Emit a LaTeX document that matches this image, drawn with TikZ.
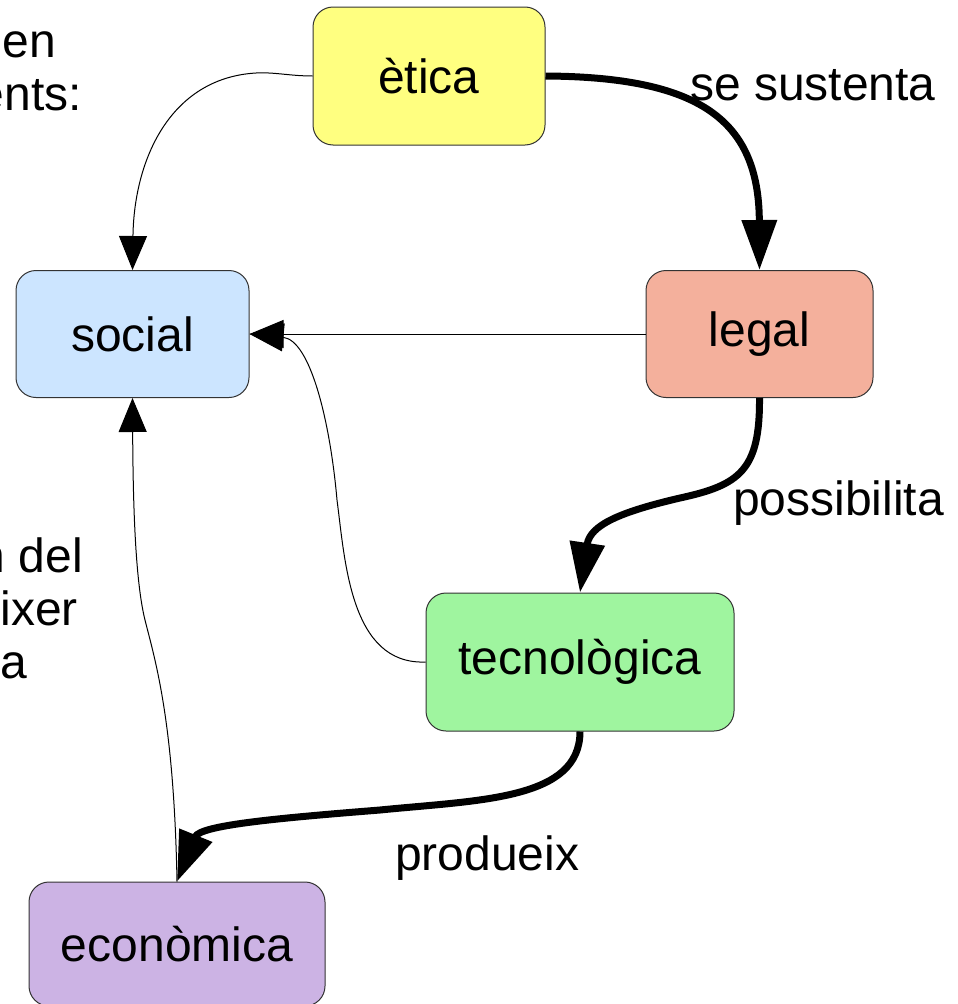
\documentclass[tikz,border=0pt]{standalone}
\usepackage{fontspec}
\setmainfont{Liberation Sans}
\usetikzlibrary{arrows.meta}
\definecolor{cEtica}{HTML}{FFFF80}
\definecolor{cSocial}{HTML}{CCE5FF}
\definecolor{cLegal}{HTML}{F4B09C}
\definecolor{cTecno}{HTML}{9FF59F}
\definecolor{cEcon}{HTML}{CCB3E4}
\begin{document}
\begin{tikzpicture}[x=1pt,y=-1pt,
  box/.style={draw=black!80, line width=1pt, rounded corners=20pt, inner sep=0pt, font=\fontsize{48}{56}\selectfont},
  lbl/.style={inner sep=0pt, font=\fontsize{48}{56}\selectfont},
  thinarr/.style={line width=1pt, -{Triangle[length=34pt,width=28pt]}},
  thickarr/.style={line width=7pt, -{Triangle[length=50pt,width=34pt]}}]
\useasboundingbox (0,0) rectangle (958,1004);
\clip (0,0) rectangle (958,1004);

% side texts (clipped at the left edge)
\node[lbl, anchor=base east] (t1) at (56,57) {nen};
\node[lbl, anchor=base east] (t2) at (82,110) {ents:};
\node[lbl, anchor=base east] (t3) at (83,572) {n del};
\node[lbl, anchor=base east] (t4) at (78,625) {ixer};
\node[lbl, anchor=base east] (t5) at (27,678) {a};

% boxes
\node[box, fill=cEtica, minimum width=232pt, minimum height=138pt] (etica) at (429,76) {ètica};
\node[box, fill=cSocial, minimum width=233pt, minimum height=127pt] (social) at (132.5,334) {social};
\node[box, fill=cLegal, minimum width=227pt, minimum height=127pt] (legal) at (759.5,334) {legal};
\node[box, fill=cTecno, minimum width=308pt, minimum height=138pt] (tecno) at (580,662) {tecnològica};
\node[box, fill=cEcon, minimum width=296pt, minimum height=124pt] (econ) at (177,944) {econòmica};

% labels
\node[lbl, anchor=base west] (l1) at (690,100) {se sustenta};
\node[lbl, anchor=base west] (l2) at (733,515) {possibilita};
\node[lbl, anchor=base west] (l3) at (395,870) {produeix};

% thin connectors
\draw[thinarr] (etica.west) .. controls (290,76) and (275,72) .. (256,73)
   .. controls (170,78) and (134,160) .. (social.north);
\draw[thinarr] (legal.west) -- (social.east);
\draw[thinarr] (tecno.west) .. controls (350,665) and (345,560) .. (337,500)
   .. controls (330,420) and (310,340) .. (social.east);
\draw[thinarr] (econ.north) .. controls (174,720) and (155,660) .. (145,620)
   .. controls (135,580) and (133,500) .. (social.south);

% thick connectors
\draw[thickarr] (etica.east) .. controls (700,77) and (759,120) .. (legal.north);
\draw[thickarr] (legal.south) .. controls (760,470) and (740,485) .. (680,498)
   .. controls (620,512) and (590,525) .. (tecno.north);
\draw[thickarr] (tecno.south) .. controls (580,800) and (480,800) .. (380,810)
   .. controls (280,818) and (200,825) .. (econ.north);
\end{tikzpicture}
\end{document}
